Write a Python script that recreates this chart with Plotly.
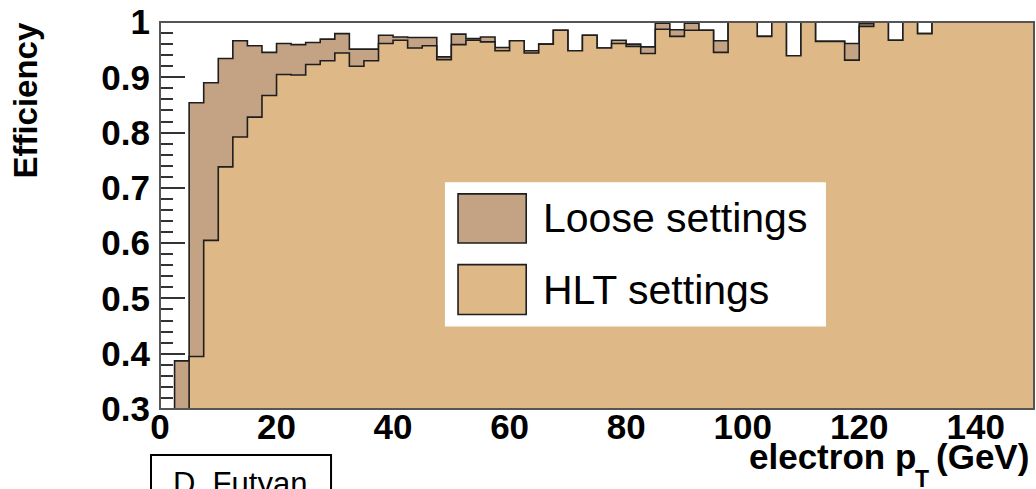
import numpy as np
import plotly.graph_objects as go

# Electron pT binning (GeV)
bin_width = 2.5
pt_edges = np.arange(0.0, 150.0 + bin_width / 2, bin_width)

# Trigger efficiency per pT bin
eff_loose = [
    0.0, 0.387, 0.854, 0.890, 0.934, 0.966, 0.957, 0.945, 0.961, 0.959,
    0.963, 0.969, 0.979, 0.951, 0.951, 0.976, 0.973, 0.972, 0.972, 0.937,
    0.978, 0.970, 0.973, 0.954, 0.966, 0.948, 0.960, 0.985, 0.948, 0.976,
    0.953, 0.967, 0.960, 0.955, 0.998, 0.986, 0.998, 0.985, 0.966, 1.0,
    1.0, 0.974, 1.0, 0.939, 1.0, 0.965, 0.965, 0.961, 0.997, 1.0,
    0.967, 1.0, 0.979, 1.0, 1.0, 1.0, 1.0, 1.0, 1.0, 1.0,
]
eff_hlt = [
    0.0, 0.0, 0.395, 0.605, 0.738, 0.792, 0.828, 0.867, 0.905, 0.904,
    0.923, 0.930, 0.944, 0.920, 0.930, 0.961, 0.967, 0.953, 0.957, 0.932,
    0.959, 0.967, 0.964, 0.948, 0.966, 0.944, 0.960, 0.985, 0.948, 0.976,
    0.953, 0.961, 0.956, 0.943, 0.987, 0.974, 0.985, 0.985, 0.945, 1.0,
    1.0, 0.974, 1.0, 0.939, 1.0, 0.965, 0.965, 0.931, 0.992, 1.0,
    0.967, 1.0, 0.979, 1.0, 1.0, 1.0, 1.0, 1.0, 1.0, 1.0,
]

x_ticks = [0, 20, 40, 60, 80, 100, 120, 140]
y_ticks = [0.3, 0.4, 0.5, 0.6, 0.7, 0.8, 0.9, 1.0]

series_names = ["Loose settings", "HLT settings"]
fill_colors = ["#C4A284", "#DEB887"]
edge_color = "#1e1e1e"
frame_color = "#555555"
font_family = "Liberation Sans, Arial, sans-serif"
tick_font = dict(family=font_family, size=35, color="black", weight="bold")
title_font = dict(family=font_family, size=35, color="black", weight="bold")


def step_points(values):
    return list(pt_edges), list(values) + [values[-1]]


fig = go.Figure()
for name, vals, col in zip(series_names, [eff_loose, eff_hlt], fill_colors):
    xs, ys = step_points(vals)
    fig.add_trace(go.Scatter(
        x=xs, y=ys, name=name, mode="lines",
        line=dict(shape="hv", color=edge_color, width=1.6),
        fill="tozeroy", fillcolor=col, showlegend=False, hoverinfo="skip",
    ))

fig.update_xaxes(
    range=[0, 150], tickvals=x_ticks, ticks="", showgrid=False, zeroline=False,
    showline=False, tickfont=tick_font, ticklabeloverflow="allow",
    ticklabelstandoff=-6, layer="below traces",
)
fig.update_yaxes(
    range=[0.3, 1.0], tickvals=y_ticks, ticktext=[f"{v:g}" for v in y_ticks],
    ticks="inside", ticklen=25, tickwidth=1.5, tickcolor="#333333",
    minor=dict(dtick=0.02, tick0=0.3, ticks="inside", ticklen=13, tickwidth=1.5, tickcolor="#333333"),
    showgrid=False, zeroline=False, showline=False,
    tickfont=tick_font, ticklabeloverflow="allow", ticklabelstandoff=9,
    layer="below traces",
)

shapes = [
    # plot frame
    dict(type="rect", xref="paper", yref="paper", x0=0, x1=1, y0=0, y1=1,
         line=dict(color=frame_color, width=2), fillcolor="rgba(0,0,0,0)", layer="above"),
    # legend box
    dict(type="rect", xref="paper", yref="paper", x0=0.326, x1=0.762, y0=0.213, y1=0.586,
         line=dict(width=0), fillcolor="white", layer="above"),
    dict(type="rect", xref="paper", yref="paper", x0=0.341, x1=0.419, y0=0.429, y1=0.556,
         line=dict(color=edge_color, width=1.6), fillcolor=fill_colors[0], layer="above"),
    dict(type="rect", xref="paper", yref="paper", x0=0.341, x1=0.419, y0=0.244, y1=0.373,
         line=dict(color=edge_color, width=1.6), fillcolor=fill_colors[1], layer="above"),
    # author box
    dict(type="rect", xref="paper", yref="paper", x0=-0.0103, x1=0.1957, y0=-0.35, y1=-0.119,
         line=dict(color="black", width=2), fillcolor="white", layer="above"),
]


def px_x(px):
    return (px - 160) / 874


def px_y(py):
    return (409 - py) / 394


annotations = [
    dict(text=series_names[0], xref="paper", yref="paper", x=px_x(541), y=px_y(215),
         xanchor="left", yanchor="middle", showarrow=False,
         font=dict(family=font_family, size=41, color="black")),
    dict(text=series_names[1], xref="paper", yref="paper", x=px_x(541), y=px_y(288),
         xanchor="left", yanchor="middle", showarrow=False,
         font=dict(family=font_family, size=41, color="black")),
    dict(text="Efficiency", xref="paper", yref="paper", x=px_x(26), y=px_y(95),
         xanchor="center", yanchor="middle", textangle=-90, showarrow=False,
         font=dict(family=font_family, size=33, color="black", weight="bold")),
    # x-axis title: "electron p", subscript "T", "(GeV)"
    dict(text="electron p", xref="paper", yref="paper", x=px_x(918), y=px_y(457),
         xanchor="right", yanchor="middle", showarrow=False, font=title_font),
    dict(text="T", xref="paper", yref="paper", x=px_x(922), y=px_y(480),
         xanchor="center", yanchor="middle", showarrow=False,
         font=dict(family=font_family, size=23, color="black", weight="bold")),
    dict(text="(GeV)", xref="paper", yref="paper", x=px_x(1031), y=px_y(457),
         xanchor="right", yanchor="middle", showarrow=False, font=title_font),
    dict(text="D. Futyan", xref="paper", yref="paper", x=px_x(171), y=px_y(465),
         xanchor="left", yanchor="top", showarrow=False,
         font=dict(family=font_family, size=31, color="black")),
]

fig.update_layout(
    width=1036, height=489,
    margin=dict(l=160, r=2, t=15, b=80),
    paper_bgcolor="white", plot_bgcolor="white",
    shapes=shapes, annotations=annotations, showlegend=False,
)

fig.write_html("out.html")
